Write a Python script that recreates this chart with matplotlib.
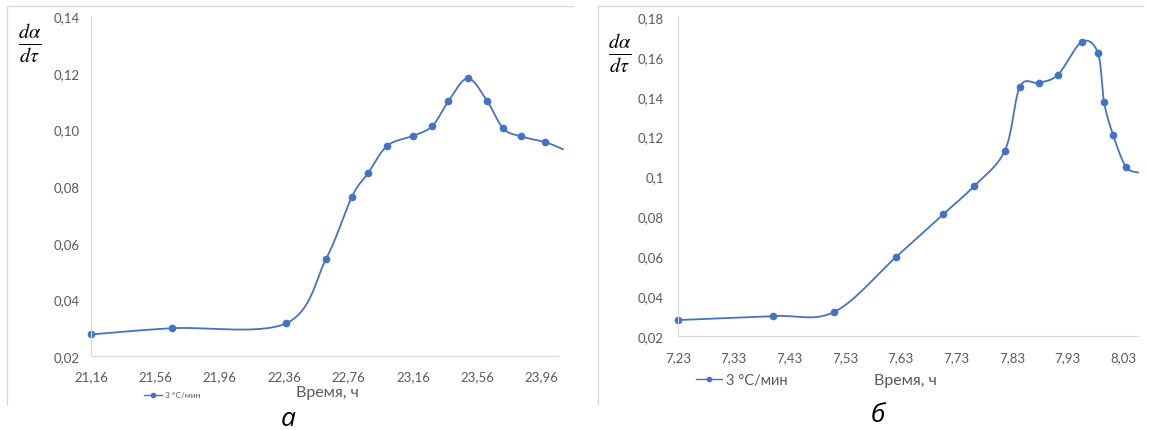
import matplotlib
matplotlib.use("Agg")
import matplotlib.pyplot as plt
import numpy as np
from matplotlib.lines import Line2D

plt.rcParams['font.family'] = ['Lato', 'DejaVu Sans']
plt.rcParams['mathtext.fontset'] = 'stix'

# панель а
t_a = [21.16, 21.66, 22.37, 22.62, 22.78, 22.88, 23.00, 23.16, 23.28, 23.38,
       23.50, 23.62, 23.72, 23.83, 23.98, 24.09]
v_a = [0.0276, 0.0298, 0.0315, 0.0543, 0.0762, 0.0845, 0.0942, 0.0977, 0.1012, 0.1100,
       0.1180, 0.1100, 0.1003, 0.0975, 0.0955, 0.0930]
ticks_a = [21.16, 21.56, 21.96, 22.36, 22.76, 23.16, 23.56, 23.96]
yticks_a = [0.02, 0.04, 0.06, 0.08, 0.10, 0.12, 0.14]

# панель б
t_b = [7.23, 7.40, 7.51, 7.621, 7.706, 7.761, 7.817, 7.844, 7.878, 7.912,
       7.955, 7.984, 7.995, 8.011, 8.034, 8.056]
v_b = [0.0280, 0.0300, 0.0320, 0.0595, 0.0810, 0.0950, 0.1130, 0.1450, 0.1470, 0.1510,
       0.1675, 0.1620, 0.1375, 0.1210, 0.1050, 0.1020]
ticks_b = [7.23, 7.33, 7.43, 7.53, 7.63, 7.73, 7.83, 7.93, 8.03]
yticks_b = [0.02, 0.04, 0.06, 0.08, 0.10, 0.12, 0.14, 0.16, 0.18]

legend_label = '3 °C/мин'
blue = '#4472c4'
gray = '#595959'


def smooth(ax, x, y, n=30):
    # сглаживание как в Excel: кривые Безье через точки (в координатах осей)
    x0, x1 = ax.get_xlim()
    y0, y1 = ax.get_ylim()
    px = (np.array(x) - x0) / (x1 - x0)
    py = (np.array(y) - y0) / (y1 - y0)
    pts = np.column_stack([px, py])
    out = []
    s = np.linspace(0, 1, n)[:, None]
    for i in range(len(pts) - 1):
        p0 = pts[max(i - 1, 0)]
        p1 = pts[i]
        p2 = pts[i + 1]
        p3 = pts[min(i + 2, len(pts) - 1)]
        c1 = p1 + (p2 - p0) / 6
        c2 = p2 - (p3 - p1) / 6
        seg = ((1 - s) ** 3) * p1 + 3 * ((1 - s) ** 2) * s * c1 + 3 * (1 - s) * s ** 2 * c2 + s ** 3 * p2
        out.append(seg)
    out = np.vstack(out)
    return out[:, 0] * (x1 - x0) + x0, out[:, 1] * (y1 - y0) + y0


def fmt(v, dec):
    return f'{v:.{dec}f}'.replace('.', ',')


fig = plt.figure(figsize=(11.49, 4.31), dpi=100)

# рамки панелей (видны только верх и левый край)
W, H = 1149, 431
for (l, r) in [(7, 573), (598, 1143)]:
    fig.add_artist(Line2D([l / W, l / W, r / W], [1 - 405 / H, 1 - 7 / H, 1 - 7 / H],
                          transform=fig.transFigure, color='#d9d9d9', lw=1))

ax1 = fig.add_axes([91 / W, 1 - 357 / H, (558 - 91) / W, (357 - 17) / H])
ax2 = fig.add_axes([678 / W, 1 - 337 / H, (1138 - 678) / W, (337 - 18) / H])

ax1.set_xlim(21.16, 24.06)
ax1.set_ylim(0.02, 0.14)
ax2.set_xlim(7.23, 8.056)
ax2.set_ylim(0.02, 0.18)

for ax, t, v, xt, yt, ydec in [(ax1, t_a, v_a, ticks_a, yticks_a, 2),
                                (ax2, t_b, v_b, ticks_b, yticks_b, None)]:
    sx, sy = smooth(ax, t, v)
    ax.plot(sx, sy, color=blue, lw=1.3, clip_on=False)
    ax.plot(t[:-1], v[:-1], 'o', color=blue, ms=4.5, clip_on=False)
    for s in ['top', 'right']:
        ax.spines[s].set_visible(False)
    for s in ['left', 'bottom']:
        ax.spines[s].set_color('#d9d9d9')
    ax.set_xticks(xt)
    ax.set_xticklabels([fmt(x, 2) for x in xt])
    ax.set_yticks(yt)
    if ydec:
        ax.set_yticklabels([fmt(y, 2) for y in yt])
    else:
        ax.set_yticklabels([f'{y:g}'.replace('.', ',') for y in yt])
    ax.tick_params(length=0, labelsize=9.5, labelcolor=gray)

ax1.tick_params(axis='y', pad=8)
ax1.tick_params(axis='x', pad=10)
ax2.tick_params(axis='y', pad=10)
ax2.tick_params(axis='x', pad=11)

frac = r'$\frac{d\alpha}{d\tau}$'
fig.text(30 / W, 1 - 44 / H, frac, fontsize=21, ha='center', va='center')
fig.text(620 / W, 1 - 54 / H, frac, fontsize=21, ha='center', va='center')

fig.text(327 / W, 1 - 393 / H, 'Время, ч', fontsize=11.5, color=gray, ha='center', va='center')
fig.text(905 / W, 1 - 381 / H, 'Время, ч', fontsize=11.5, color=gray, ha='center', va='center')

handle = Line2D([], [], color=blue, marker='o', ms=3, lw=1)
ax1.legend([handle], [legend_label], loc='center', bbox_to_anchor=(172 / W, 1 - 396 / H),
           bbox_transform=fig.transFigure, frameon=False, fontsize=6, handlelength=2.2,
           handletextpad=0.3, labelcolor=gray)
ax2.legend([handle], [legend_label], loc='center', bbox_to_anchor=(742 / W, 1 - 381 / H),
           bbox_transform=fig.transFigure, frameon=False, fontsize=10.5, handlelength=1.8,
           handletextpad=0.3, labelcolor=gray)

fig.text(288 / W, 1 - 420 / H, 'а', fontsize=19, style='italic', family='Open Sans',
         ha='center', va='center')
fig.text(878 / W, 1 - 416 / H, 'б', fontsize=19, style='italic', family='Open Sans',
         ha='center', va='center')

fig.savefig('out.png', dpi=100)
